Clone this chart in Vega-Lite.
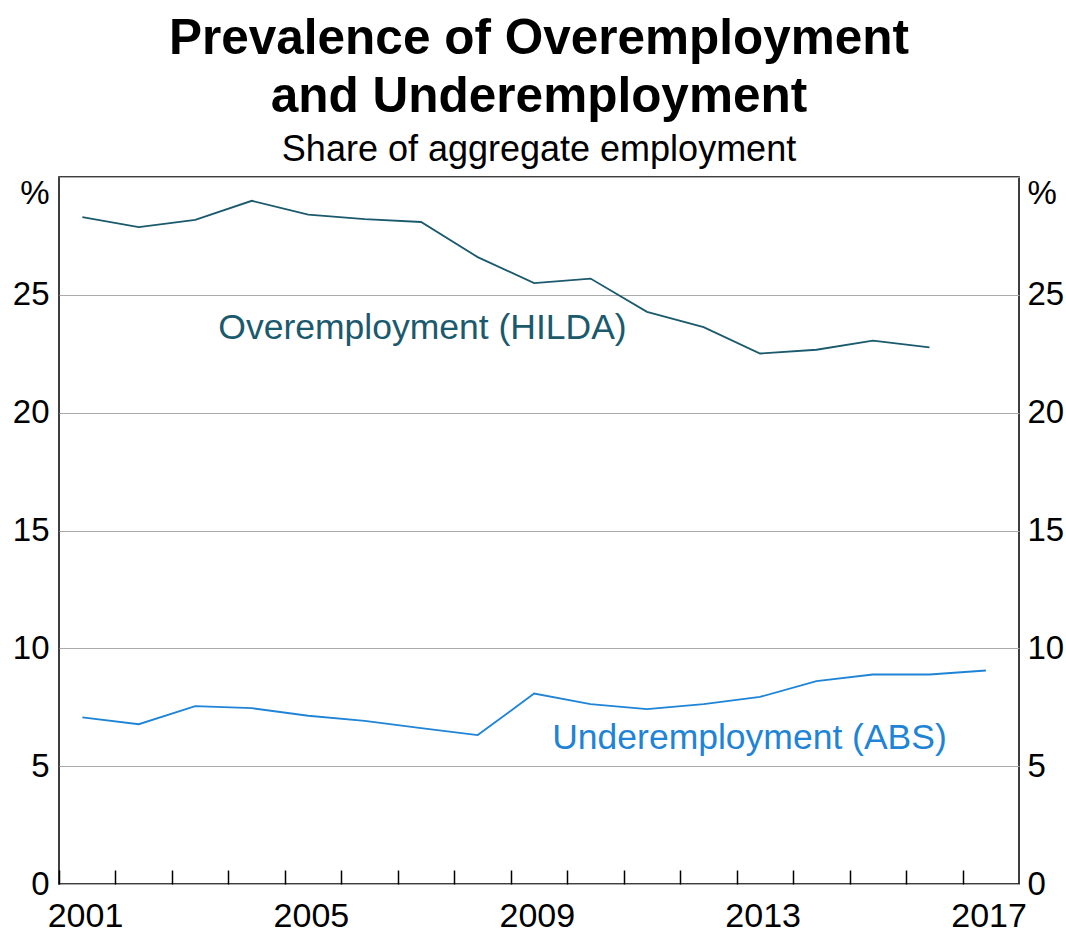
{
  "$schema": "https://vega.github.io/schema/vega-lite/v6.json",
  "width": 960,
  "height": 707,
  "autosize": {"type": "none"},
  "padding": {"left": 59, "top": 177, "right": 47, "bottom": 50},
  "background": "white",
  "config": {
    "font": "Liberation Sans",
    "view": {"stroke": "black", "strokeWidth": 1.5},
    "axis": {"labelFont": "Liberation Sans", "labelColor": "black", "labelFontSize": 33, "domain": false, "title": null}
  },
  "title": {
    "text": ["Prevalence of Overemployment", "and Underemployment"],
    "subtitle": "Share of aggregate employment",
    "fontSize": 49.5,
    "fontWeight": "bold",
    "lineHeight": 58,
    "subtitleFontSize": 36,
    "subtitlePadding": 11,
    "color": "black",
    "subtitleColor": "black",
    "anchor": "middle",
    "offset": 8
  },
  "datasets": {
    "series": [
      {"date": "2001-06-01", "value": 28.30, "series": "Overemployment (HILDA)"},
      {"date": "2002-06-01", "value": 27.87, "series": "Overemployment (HILDA)"},
      {"date": "2003-06-01", "value": 28.18, "series": "Overemployment (HILDA)"},
      {"date": "2004-06-01", "value": 28.99, "series": "Overemployment (HILDA)"},
      {"date": "2005-06-01", "value": 28.40, "series": "Overemployment (HILDA)"},
      {"date": "2006-06-01", "value": 28.21, "series": "Overemployment (HILDA)"},
      {"date": "2007-06-01", "value": 28.09, "series": "Overemployment (HILDA)"},
      {"date": "2008-06-01", "value": 26.60, "series": "Overemployment (HILDA)"},
      {"date": "2009-06-01", "value": 25.50, "series": "Overemployment (HILDA)"},
      {"date": "2010-06-01", "value": 25.69, "series": "Overemployment (HILDA)"},
      {"date": "2011-06-01", "value": 24.28, "series": "Overemployment (HILDA)"},
      {"date": "2012-06-01", "value": 23.63, "series": "Overemployment (HILDA)"},
      {"date": "2013-06-01", "value": 22.51, "series": "Overemployment (HILDA)"},
      {"date": "2014-06-01", "value": 22.67, "series": "Overemployment (HILDA)"},
      {"date": "2015-06-01", "value": 23.06, "series": "Overemployment (HILDA)"},
      {"date": "2016-06-01", "value": 22.77, "series": "Overemployment (HILDA)"},
      {"date": "2001-06-01", "value": 7.07, "series": "Underemployment (ABS)"},
      {"date": "2002-06-01", "value": 6.78, "series": "Underemployment (ABS)"},
      {"date": "2003-06-01", "value": 7.55, "series": "Underemployment (ABS)"},
      {"date": "2004-06-01", "value": 7.46, "series": "Underemployment (ABS)"},
      {"date": "2005-06-01", "value": 7.14, "series": "Underemployment (ABS)"},
      {"date": "2006-06-01", "value": 6.92, "series": "Underemployment (ABS)"},
      {"date": "2007-06-01", "value": 6.61, "series": "Underemployment (ABS)"},
      {"date": "2008-06-01", "value": 6.32, "series": "Underemployment (ABS)"},
      {"date": "2009-06-01", "value": 8.08, "series": "Underemployment (ABS)"},
      {"date": "2010-06-01", "value": 7.63, "series": "Underemployment (ABS)"},
      {"date": "2011-06-01", "value": 7.42, "series": "Underemployment (ABS)"},
      {"date": "2012-06-01", "value": 7.63, "series": "Underemployment (ABS)"},
      {"date": "2013-06-01", "value": 7.94, "series": "Underemployment (ABS)"},
      {"date": "2014-06-01", "value": 8.61, "series": "Underemployment (ABS)"},
      {"date": "2015-06-01", "value": 8.89, "series": "Underemployment (ABS)"},
      {"date": "2016-06-01", "value": 8.89, "series": "Underemployment (ABS)"},
      {"date": "2017-06-01", "value": 9.06, "series": "Underemployment (ABS)"}
    ],
    "labels": [
      {"date": "2007-06-10", "value": 23.60, "series": "Overemployment (HILDA)"},
      {"date": "2013-03-25", "value": 6.20, "series": "Underemployment (ABS)"}
    ]
  },
  "layer": [
    {
      "data": {"name": "series"},
      "mark": {"type": "line", "strokeWidth": 1.8},
      "encoding": {
        "x": {
          "field": "date",
          "type": "temporal",
          "scale": {
            "type": "utc",
            "domain": [
              {"year": 2001, "month": 1, "date": 1, "utc": true},
              {"year": 2018, "month": 1, "date": 1, "utc": true}
            ]
          },
          "axis": {
            "orient": "bottom",
            "values": [
              {"year": 2001, "month": 1, "date": 1, "utc": true},
              {"year": 2002, "month": 1, "date": 1, "utc": true},
              {"year": 2003, "month": 1, "date": 1, "utc": true},
              {"year": 2004, "month": 1, "date": 1, "utc": true},
              {"year": 2005, "month": 1, "date": 1, "utc": true},
              {"year": 2006, "month": 1, "date": 1, "utc": true},
              {"year": 2007, "month": 1, "date": 1, "utc": true},
              {"year": 2008, "month": 1, "date": 1, "utc": true},
              {"year": 2009, "month": 1, "date": 1, "utc": true},
              {"year": 2010, "month": 1, "date": 1, "utc": true},
              {"year": 2011, "month": 1, "date": 1, "utc": true},
              {"year": 2012, "month": 1, "date": 1, "utc": true},
              {"year": 2013, "month": 1, "date": 1, "utc": true},
              {"year": 2014, "month": 1, "date": 1, "utc": true},
              {"year": 2015, "month": 1, "date": 1, "utc": true},
              {"year": 2016, "month": 1, "date": 1, "utc": true},
              {"year": 2017, "month": 1, "date": 1, "utc": true}
            ],
            "labelExpr": "utcyear(datum.value) % 4 == 1 ? utcFormat(datum.value, '%Y') : ''",
            "labelOffset": 26,
            "labelFontSize": 34,
            "labelOverlap": false,
            "labelFlush": false,
            "labelBound": false,
            "grid": false,
            "ticks": true,
            "tickSize": -14,
            "tickColor": "black",
            "tickWidth": 1.5,
            "labelPadding": 29
          }
        },
        "y": {
          "field": "value",
          "type": "quantitative",
          "scale": {"domain": [0, 30], "nice": false, "zero": true},
          "axis": {
            "orient": "left",
            "values": [0, 5, 10, 15, 20, 25, 30],
            "labelExpr": "datum.value == 30 ? '%' : datum.label",
            "labelBaseline": {"condition": {"test": "datum.value == 30", "value": "top"}, "value": "middle"},
            "labelFlush": false,
            "labelOverlap": false,
            "ticks": false,
            "grid": true,
            "gridColor": "#aaaaaa",
            "gridWidth": 1,
            "labelPadding": 10
          }
        },
        "color": {
          "field": "series",
          "type": "nominal",
          "scale": {"domain": ["Overemployment (HILDA)", "Underemployment (ABS)"], "range": ["#1b5a6d", "#1f84d6"]},
          "legend": null
        }
      }
    },
    {
      "data": {"name": "labels"},
      "mark": {"type": "text", "fontSize": 35.5, "align": "center", "baseline": "middle", "font": "Liberation Sans"},
      "encoding": {
        "x": {"field": "date", "type": "temporal"},
        "y": {
          "field": "value",
          "type": "quantitative",
          "scale": {"domain": [0, 30], "nice": false, "zero": true},
          "axis": {
            "orient": "right",
            "values": [0, 5, 10, 15, 20, 25, 30],
            "labelExpr": "datum.value == 30 ? '%' : datum.label",
            "labelBaseline": {"condition": {"test": "datum.value == 30", "value": "top"}, "value": "middle"},
            "labelFlush": false,
            "labelOverlap": false,
            "labelAlign": "left",
            "ticks": false,
            "grid": false,
            "labelPadding": 8
          }
        },
        "text": {"field": "series", "type": "nominal"},
        "color": {"field": "series", "type": "nominal", "legend": null}
      }
    }
  ],
  "resolve": {"axis": {"y": "independent"}}
}
